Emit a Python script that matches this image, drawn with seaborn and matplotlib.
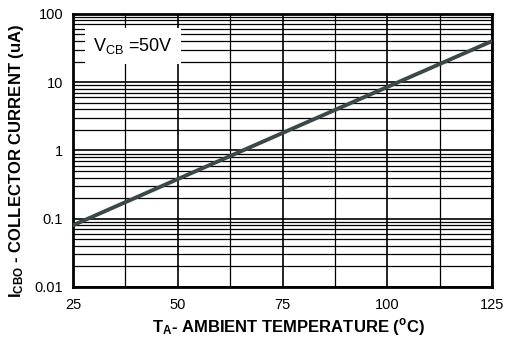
import numpy as np
import pandas as pd
import seaborn as sns
import matplotlib.pyplot as plt
from matplotlib.ticker import FixedLocator, LogLocator, NullFormatter

temps = [25, 50, 75, 100, 125]
icbo = [0.08, 0.38, 1.8, 8.5, 40]
x_ticks = [25, 50, 75, 100, 125]
y_ticks = [0.01, 0.1, 1, 10, 100]
y_tick_labels = ['0.01', '0.1', '1', '10', '100']

sns.set_theme(style='white')
plt.rcParams['font.family'] = ['Liberation Sans', 'DejaVu Sans']
plt.rcParams['mathtext.fontset'] = 'custom'
plt.rcParams['mathtext.rm'] = 'Liberation Sans'
plt.rcParams['mathtext.bf'] = 'Liberation Sans:bold'

df = pd.DataFrame({'temp': temps, 'icbo': icbo})

fig = plt.figure(figsize=(5.1, 3.38), dpi=100)
ax = fig.add_axes([0.143, 0.151, 0.822, 0.808])

sns.lineplot(data=df, x='temp', y='icbo', color='#3c4848', linewidth=2.8, ax=ax, zorder=5)

ax.set_yscale('log')
ax.set_xlim(25, 125)
ax.set_ylim(0.01, 100)

ax.set_xticks(x_ticks)
ax.set_xticklabels([str(t) for t in x_ticks])
ax.xaxis.set_minor_locator(FixedLocator(np.arange(37.5, 125, 25)))
ax.set_yticks(y_ticks)
ax.set_yticklabels(y_tick_labels)
ax.yaxis.set_minor_locator(LogLocator(base=10, subs=np.arange(2, 10)))
ax.yaxis.set_minor_formatter(NullFormatter())

ax.grid(True, which='major', axis='both', color='black', linewidth=1.2)
ax.grid(True, which='minor', axis='both', color='black', linewidth=0.9)
ax.tick_params(which='both', length=0, labelsize=10.5, colors='black')
ax.tick_params(axis='x', pad=8)
ax.tick_params(axis='y', pad=7)

for s in ax.spines.values():
    s.set_color('black')
    s.set_linewidth(2)

ax.set_xlabel(r'$\mathbf{T_A}$- AMBIENT TEMPERATURE ($^{\mathbf{o}}$C)',
              fontsize=12, fontweight='bold', color='black')
ax.set_ylabel(r'$\mathbf{I_{CBO}}$ - COLLECTOR CURRENT (uA)',
              fontsize=12, fontweight='bold', color='black')
ax.xaxis.set_label_coords(0.514, -0.147)
ax.xaxis.label.set_va('center')
ax.yaxis.set_label_coords(-0.134, 0.46)
ax.yaxis.label.set_va('center')

ax.text(29.8, 34, r'V$_{\mathrm{CB}}$ =50V', fontsize=13, color='black',
        va='center', ha='left', zorder=6,
        bbox=dict(facecolor='white', edgecolor='none', pad=6))

fig.savefig('out.png', dpi=100)
